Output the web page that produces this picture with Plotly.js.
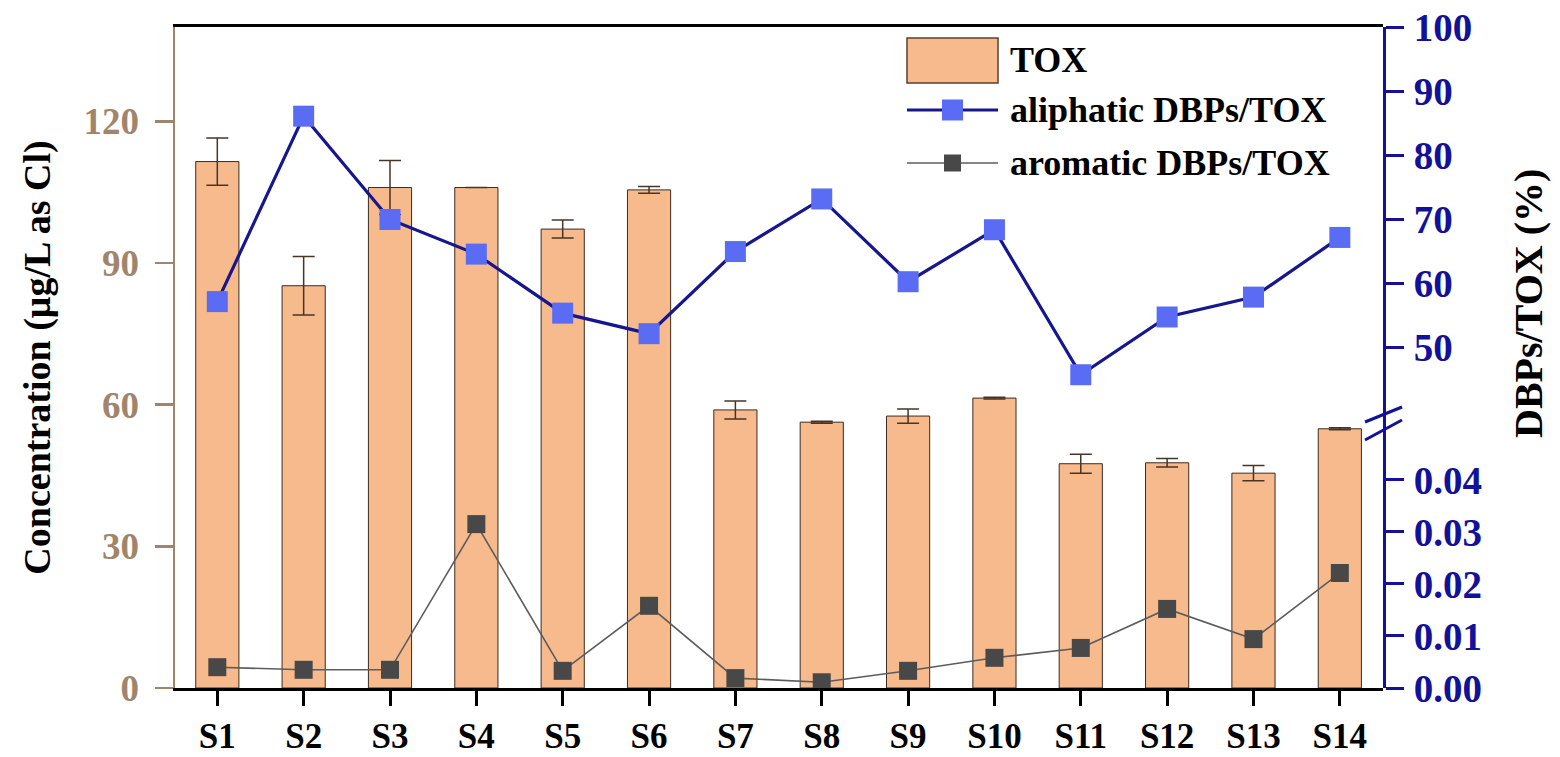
<!DOCTYPE html>
<html>
<head>
<meta charset="utf-8">
<script src="https://cdn.plot.ly/plotly-3.0.1.min.js"></script>
<style>
  html, body { margin: 0; padding: 0; background: #ffffff; }
  #chart { width: 1560px; height: 757px; }
</style>
</head>
<body>
<div id="chart"></div>
<script>
// Sampling sites
const sites = ['S1','S2','S3','S4','S5','S6','S7','S8','S9','S10','S11','S12','S13','S14'];

// Total organic halogen, µg/L as Cl, with standard deviations
const toxValues = [111.5, 85.2, 106.0, 106.0, 97.2, 105.5, 58.9, 56.3, 57.6, 61.4, 47.5, 47.7, 45.5, 54.9];
const toxErrors = [5.0, 6.2, 5.7, 0, 1.9, 0.7, 1.9, 0.2, 1.5, 0.2, 2.0, 0.9, 1.6, 0.2];

// Share of TOX explained by each DBP class (%)
const aliphaticRatio = [57.2, 86.1, 70.0, 64.6, 55.4, 52.2, 65.0, 73.2, 60.3, 68.4, 45.8, 54.8, 57.9, 67.2];
const aromaticRatio = [0.0040, 0.0035, 0.0035, 0.0315, 0.0033, 0.0158, 0.0019, 0.0011, 0.0033, 0.0058, 0.0077, 0.0152, 0.0094, 0.0221];

// Axis ticks
const leftTicks = [0, 30, 60, 90, 120];
const upperRightTicks = [50, 60, 70, 80, 90, 100];
const lowerRightTicks = [0, 0.01, 0.02, 0.03, 0.04];

// Series names
const names = ['TOX', 'aliphatic DBPs/TOX', 'aromatic DBPs/TOX'];

const FONT = 'Liberation Serif, Times New Roman, serif';
const TAN = '#a1856b';
const NAVY = '#11119a';
const BAR_FILL = '#f6ba8c';
const BAR_EDGE = '#3c2b20';
const ALI_LINE = '#16168e', ALI_MARK = '#5a6cf3';
const ARO_LINE = '#5c5c5c', ARO_MARK = '#484848';
const BREAK = 0.4085;   // split between the two right-hand axis segments

// plot area in pixels, used to place the key in paper units
const M = { l: 175, r: 177, t: 27, b: 69 };
const W = 1560, H = 757;
const PW = W - M.l - M.r, PH = H - M.t - M.b;
const px = x => (x - M.l) / PW;
const py = y => (H - M.b - y) / PH;

const traces = [
  {
    type: 'bar', name: names[0], x: sites, y: toxValues,
    xaxis: 'x', yaxis: 'y', width: 0.5,
    marker: { color: BAR_FILL, line: { color: BAR_EDGE, width: 1 } },
    error_y: { type: 'data', array: toxErrors, visible: true, color: '#4a3426', thickness: 1.5, width: 11 }
  },
  {
    type: 'scatter', mode: 'lines+markers', name: names[1],
    x: sites, y: aliphaticRatio, xaxis: 'x', yaxis: 'y2',
    line: { color: ALI_LINE, width: 3.2 },
    marker: { symbol: 'square', size: 21, color: ALI_MARK }
  },
  {
    type: 'scatter', mode: 'lines+markers', name: names[2],
    x: sites, y: aromaticRatio, xaxis: 'x', yaxis: 'y3',
    line: { color: ARO_LINE, width: 1.6 },
    marker: { symbol: 'square', size: 18, color: ARO_MARK }
  }
];

// Key drawn in the upper right of the plot area
function keySquare(cx, cy, size, color) {
  return { type: 'rect', xref: 'paper', yref: 'paper',
           x0: px(cx - size / 2), x1: px(cx + size / 2), y0: py(cy + size / 2), y1: py(cy - size / 2),
           fillcolor: color, line: { width: 0 }, layer: 'above' };
}
const keyX0 = 907, keyX1 = 998, keyText = 1008, rows = [60, 110, 163];
const keyShapes = [
  { type: 'rect', xref: 'paper', yref: 'paper', x0: px(keyX0), x1: px(keyX1), y0: py(83), y1: py(38),
    fillcolor: BAR_FILL, line: { color: '#5a4030', width: 1.5 }, layer: 'above' },
  { type: 'line', xref: 'paper', yref: 'paper', x0: px(keyX0), x1: px(keyX1), y0: py(rows[1]), y1: py(rows[1]),
    line: { color: ALI_LINE, width: 3.2 }, layer: 'above' },
  keySquare((keyX0 + keyX1) / 2, rows[1], 21, ALI_MARK),
  { type: 'line', xref: 'paper', yref: 'paper', x0: px(keyX0), x1: px(keyX1), y0: py(rows[2]), y1: py(rows[2]),
    line: { color: ARO_LINE, width: 1.6 }, layer: 'above' },
  keySquare((keyX0 + keyX1) / 2, rows[2], 17, ARO_MARK)
];
const keyLabels = names.map((n, i) => ({
  text: n, xref: 'paper', yref: 'paper', x: px(keyText), y: py(rows[i]),
  xanchor: 'left', yanchor: 'middle', showarrow: false,
  font: { family: FONT, size: 36, color: '#000000', weight: 'bold' }
}));

const layout = {
  width: W, height: H,
  margin: M,
  paper_bgcolor: '#ffffff', plot_bgcolor: 'rgba(0,0,0,0)',
  font: { family: FONT, size: 36, color: '#000000' },
  showlegend: false,
  xaxis: {
    type: 'category', range: [-0.49, 13.5], anchor: 'y',
    showline: true, linecolor: '#000000', linewidth: 3, mirror: true,
    ticks: 'outside', ticklen: 15, tickwidth: 3, tickcolor: '#000000',
    tickfont: { family: FONT, size: 35, color: '#000000', weight: 'bold' },
    showgrid: false, zeroline: false, fixedrange: true
  },
  yaxis: {
    domain: [0, 1], range: [0, 140], tickvals: leftTicks,
    showline: true, linecolor: TAN, linewidth: 2.5,
    ticks: 'outside', ticklen: 18, tickwidth: 2.5, tickcolor: TAN,
    ticklabelstandoff: 8,
    tickfont: { family: FONT, size: 37, color: TAN, weight: 'bold' },
    title: { text: 'Concentration (μg/L as Cl)', standoff: 22,
             font: { family: FONT, size: 38, color: '#000000', weight: 'bold' } },
    showgrid: false, zeroline: false, fixedrange: true
  },
  yaxis2: {
    domain: [BREAK, 1], range: [39.06, 100], tickvals: upperRightTicks,
    anchor: 'x', side: 'right',
    showline: true, linecolor: NAVY, linewidth: 3,
    ticks: 'outside', ticklen: 18, tickwidth: 3, tickcolor: NAVY,
    ticklabelstandoff: 2,
    tickfont: { family: FONT, size: 39, color: NAVY, weight: 'bold' },
    showgrid: false, zeroline: false, fixedrange: true
  },
  yaxis3: {
    domain: [0, BREAK], range: [0, 0.0519], tickvals: lowerRightTicks, tickformat: '.2f',
    anchor: 'x', side: 'right',
    showline: true, linecolor: NAVY, linewidth: 3,
    ticks: 'outside', ticklen: 18, tickwidth: 3, tickcolor: NAVY,
    ticklabelstandoff: 2,
    tickfont: { family: FONT, size: 39, color: NAVY, weight: 'bold' },
    showgrid: false, zeroline: false, fixedrange: true
  },
  annotations: [
    {
      text: 'DBPs/TOX (%)', xref: 'paper', yref: 'paper',
      x: px(1528), y: py(304), xanchor: 'center', yanchor: 'middle',
      textangle: -90, showarrow: false,
      font: { family: FONT, size: 40, color: '#000000', weight: 'bold' }
    }
  ].concat(keyLabels),
  shapes: [
    // axis break marks on the right-hand axis
    { type: 'line', xref: 'paper', yref: 'paper', x0: px(1365), y0: py(422), x1: px(1402), y1: py(407),
      line: { color: NAVY, width: 3 } },
    { type: 'line', xref: 'paper', yref: 'paper', x0: px(1365), y0: py(440), x1: px(1402), y1: py(420),
      line: { color: NAVY, width: 3 } }
  ].concat(keyShapes)
};

Plotly.newPlot('chart', traces, layout, { displayModeBar: false, staticPlot: true });
</script>
</body>
</html>
